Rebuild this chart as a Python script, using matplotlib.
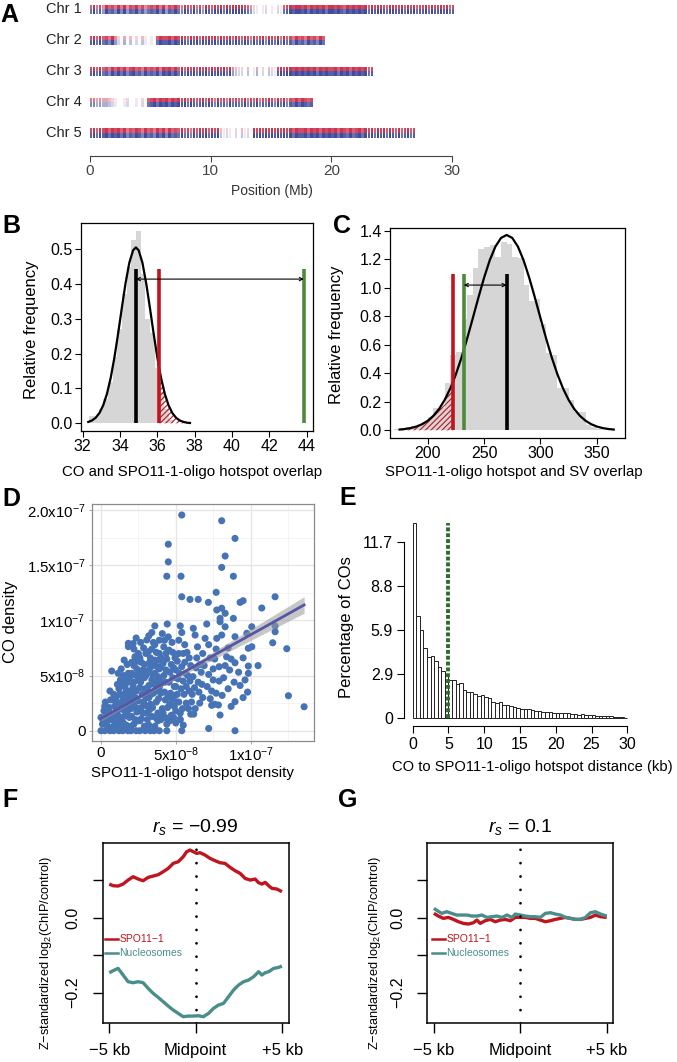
import numpy as np
import matplotlib
matplotlib.use('Agg')
import matplotlib.pyplot as plt

plt.rcParams['font.family'] = ['Liberation Sans', 'DejaVu Sans']
plt.rcParams['mathtext.fontset'] = 'custom'
plt.rcParams['mathtext.rm'] = 'Liberation Sans'
plt.rcParams['mathtext.it'] = 'Liberation Sans:italic'
plt.rcParams['hatch.linewidth'] = 0.8

RED = '#c0141e'
GREEN = '#4f8a3c'
TEAL = '#4a8e8b'

# ---------------- data ----------------
# A: marker density per 0.25 Mb bin (0-9), groups of 10 bins
chr_names = ['Chr 1', 'Chr 2', 'Chr 3', 'Chr 4', 'Chr 5']
chr_density = [
    "7968597869 6958796857 8796958797 6987968598 7989798999 9875210120 "
    "1021789899 8979898979 9898798989 8979899879 9889798978 8979889897 8",
    "8979786952 0403020310 1079889798 9879897989 8979889798 7986978969 "
    "8796978697 86978697",
    "8979786979 7968978697 8796989797 9798979897 9898979532 2030140203 "
    "2189899898 9898979898 8979897989 8978",
    "6645443210 0120010207 8979897989 8979878979 8697869787 7968796879 "
    "8697968797 9878",
    "8979897989 7968798697 8697969787 9786979897 9893121020 3120989898 "
    "9898989798 8979897989 8979879789 7989798979 87978978",
]
bin_mb = 0.25
a_ticks = [0, 10, 20, 30]

# B: CO / hotspot overlap permutation test
b_hist_left = [32.35, 32.6, 32.85, 33.1, 33.35, 33.6, 33.85, 34.1, 34.35,
               34.6, 34.85, 35.1, 35.35, 35.6, 35.85, 36.1, 36.35, 36.6]
b_hist_height = [0.02, 0.02, 0.04, 0.07, 0.12, 0.19, 0.27, 0.37, 0.45,
                 0.527, 0.553, 0.43, 0.30, 0.26, 0.16, 0.09, 0.04, 0.01]
b_curve_x = [32.3, 32.5, 32.7, 32.9, 33.1, 33.3, 33.5, 33.7, 33.9, 34.1, 34.3,
             34.5, 34.7, 34.85, 35.0, 35.2, 35.4, 35.6, 35.8, 36.0, 36.1, 36.2,
             36.4, 36.6, 36.8, 37.0, 37.2, 37.4, 37.6, 37.75]
b_curve_y = [0.004, 0.0083, 0.0162, 0.0299, 0.0518, 0.0846, 0.1303, 0.1889,
             0.2581, 0.3323, 0.4032, 0.4611, 0.4966, 0.505, 0.4966, 0.4611,
             0.4032, 0.3323, 0.2581, 0.1889, 0.158, 0.1303, 0.0846, 0.0518,
             0.0299, 0.0162, 0.0083, 0.004, 0.0018, 0.001]
b_expected, b_lower, b_observed = 34.85, 36.1, 43.85

# C: hotspot / SV overlap permutation test
c_hist_left = list(range(170, 355, 5))
c_hist_height = [0.01, 0.01, 0.02, 0.03, 0.04, 0.06, 0.09, 0.16, 0.16, 0.33,
                 0.53, 0.55, 0.78, 0.95, 1.14, 1.27, 1.29, 1.30, 1.22, 1.32,
                 1.31, 1.22, 1.21, 1.02, 0.91, 0.92, 0.75, 0.54, 0.53, 0.30,
                 0.30, 0.21, 0.13, 0.13, 0.04, 0.02, 0.01]
c_curve_x = [175, 180, 185, 190, 195, 200, 205, 210, 215, 220, 222.2, 225, 230,
             235, 240, 245, 250, 255, 260, 265, 270, 275, 280, 285, 290, 295,
             300, 305, 310, 315, 320, 325, 330, 335, 340, 345, 350, 355, 360, 365]
c_curve_y = [0.0053, 0.0094, 0.0161, 0.0267, 0.043, 0.0672, 0.1018, 0.1495,
             0.2132, 0.2944, 0.336, 0.3943, 0.5123, 0.6455, 0.7885, 0.9336,
             1.0725, 1.1946, 1.2901, 1.351, 1.372, 1.351, 1.2901, 1.1946,
             1.0725, 0.9336, 0.7885, 0.6455, 0.5123, 0.3943, 0.2944, 0.2132,
             0.1495, 0.1018, 0.0672, 0.043, 0.0267, 0.0161, 0.0094, 0.0053]
c_lower, c_observed, c_expected = 222.2, 232.0, 270.0

# D: densities (units of 1e-8)
d_points = np.array([
    (0, 0), (0.25, 0), (0.6, 0), (0.85, 0), (1.2, 0), (1.45, 0), (1.8, 0), (2.0, 0),
    (2.35, 0), (2.6, 0), (2.95, 0), (3.3, 0), (3.55, 0), (3.9, 0), (4.4, 0), (5.4, 0),
    (7.2, 0.2), (8.96, 0),
    (0.1, 0.6), (0.5, 1.0), (0.9, 0.5), (1.1, 0.9), (1.5, 0.7), (2.2, 0.6), (2.7, 1.1),
    (3.2, 0.5), (3.8, 0.9), (4.3, 1.2), (5.3, 1.0), (5.0, 0.7), (6.0, 1.5), (7.96, 1.42),
    (5.28, 1.03),
    (0.0, 1.2), (0.2, 1.8), (0.4, 0.8), (0.5, 1.8), (0.7, 0.3), (0.8, 1.3), (0.9, 2.2),
    (1.0, 0.6), (0.3, 2.6), (0.72, 5.41), (0.6, 3.6),
    (1.1, 1.5), (1.2, 2.5), (1.3, 0.9), (1.4, 3.2), (1.5, 1.9), (1.6, 4.0), (1.7, 0.5),
    (1.8, 2.8), (1.9, 3.6), (1.3, 4.6), (1.83, 5.2), (1.83, 7.62), (1.83, 7.92),
    (2.05, 5.2), (1.6, 3.0), (1.9, 1.2), (1.0, 3.0), (1.2, 3.8), (1.4, 0.3), (1.6, 2.2),
    (1.8, 4.4), (1.5, 5.0), (1.1, 4.2),
    (2.0, 2.0), (2.1, 3.4), (2.2, 4.4), (2.27, 6.7), (2.3, 1.0), (2.4, 5.6), (2.5, 2.7),
    (2.6, 3.9), (2.7, 6.2), (2.8, 1.6), (2.9, 4.8), (3.0, 3.0), (2.2, 5.9), (2.5, 7.0),
    (2.8, 5.5), (2.4, 1.7), (2.6, 0.9), (2.0, 0.4), (2.1, 2.6), (2.3, 3.0), (2.5, 4.6),
    (2.7, 2.1), (2.9, 0.4), (2.2, 7.4), (2.6, 6.6), (2.9, 6.0),
    (3.06, 8.22), (3.17, 7.16), (3.1, 2.2), (3.2, 4.1), (3.3, 5.7), (3.4, 1.3),
    (3.5, 3.4), (3.6, 6.4), (3.6, 9.5), (3.7, 2.6), (3.8, 4.9), (3.9, 7.0), (3.3, 6.6),
    (3.5, 8.0), (3.8, 1.6), (3.9, 3.9), (3.2, 3.0), (3.6, 5.2), (3.0, 5.0), (3.1, 1.0),
    (3.3, 2.4), (3.4, 4.6), (3.6, 0.4), (3.7, 3.6), (3.9, 5.6), (3.0, 7.0), (3.4, 7.4),
    (3.6, 7.8),
    (4.0, 5.8), (4.1, 2.0), (4.2, 7.6), (4.3, 4.4), (4.43, 9.67), (4.4, 6.5), (4.5, 3.1),
    (4.5, 8.5), (4.6, 5.3), (4.7, 1.4), (4.8, 7.1), (4.9, 4.0), (4.1, 8.8), (4.3, 2.8),
    (4.7, 6.0), (4.9, 2.2), (4.0, 1.0), (4.0, 3.4), (4.2, 5.0), (4.4, 0.6), (4.6, 2.4),
    (4.8, 4.8), (4.0, 6.6),
    (5.0, 5.5), (5.1, 3.3), (5.2, 7.0), (5.3, 1.6), (5.4, 8.9), (5.5, 4.5), (5.6, 6.2),
    (5.7, 2.5), (5.8, 5.0), (5.9, 3.6), (5.3, 9.5), (5.6, 7.8), (5.1, 6.3), (5.0, 1.8),
    (5.0, 4.0), (5.2, 2.6), (5.4, 5.8), (5.5, 0.5), (5.7, 4.0),
    (6.0, 5.9), (6.17, 9.28), (6.29, 8.67), (6.1, 3.3), (6.3, 2.0), (6.4, 6.6),
    (6.5, 4.4), (6.7, 5.3), (6.8, 3.0), (6.96, 8.37), (6.8, 7.0), (6.2, 1.5), (6.6, 6.0),
    (7.07, 9.67), (7.2, 5.1), (7.3, 6.6), (7.4, 3.6), (7.5, 4.6), (7.7, 7.4),
    (7.74, 8.37), (7.85, 2.33), (7.9, 5.8), (7.96, 10.18), (7.96, 9.88), (7.4, 2.3),
    (7.6, 2.4),
    (8.07, 8.67), (8.3, 9.42), (8.4, 6.7), (8.2, 4.8), (8.5, 3.8), (8.6, 5.5),
    (8.96, 8.52), (8.96, 6.16), (8.85, 10.18), (8.96, 2.63), (8.7, 2.2), (8.9, 4.4),
    (9.3, 4.1), (9.5, 6.6), (9.63, 4.6), (9.75, 8.83), (9.85, 7.47), (9.85, 5.86),
    (9.85, 5.2), (9.5, 3.0), (9.8, 3.5), (9.2, 5.3),
    (10.08, 7.61), (10.08, 9.42), (10.5, 5.9), (11.48, 7.97), (11.64, 8.97),
    (11.64, 9.49), (12.42, 7.43), (12.53, 3.17), (13.58, 2.17), (11.64, 12.14),
    (10.75, 11.12),
    (5.4, 19.55), (8.07, 19.03), (8.96, 17.43), (4.5, 16.9), (8.3, 15.83), (4.5, 15.3),
    (8.07, 14.8), (4.4, 14.0), (5.35, 14.0), (8.85, 14.0), (7.7, 12.54), (5.4, 12.14),
    (5.95, 11.9), (6.5, 11.9), (7.18, 11.63), (9.3, 11.63), (9.5, 11.78), (7.74, 10.94),
    (8.07, 11.1), (8.3, 10.64),
    # dense core
    (0.15, 0.9), (0.35, 1.4), (0.55, 2.1), (0.75, 1.0), (0.95, 1.6), (0.45, 0.4),
    (0.65, 2.8), (0.85, 3.3), (0.25, 2.2), (0.95, 2.7),
    (1.05, 1.9), (1.15, 0.4), (1.25, 1.2), (1.35, 2.0), (1.45, 2.7), (1.55, 1.3),
    (1.65, 3.5), (1.75, 1.7), (1.85, 2.3), (1.95, 3.1), (1.25, 3.3), (1.45, 4.1),
    (1.65, 4.6), (1.95, 4.9), (1.35, 5.6), (1.75, 6.0), (1.15, 5.2), (1.55, 6.4),
    (2.05, 1.3), (2.15, 4.0), (2.25, 2.2), (2.35, 3.6), (2.45, 0.9), (2.55, 2.0),
    (2.65, 4.4), (2.75, 3.3), (2.85, 2.6), (2.95, 3.8), (2.05, 6.2), (2.35, 5.0),
    (2.55, 5.3), (2.75, 4.9), (2.95, 5.4), (2.15, 7.9), (2.45, 6.3), (2.85, 7.5),
    (2.65, 8.0), (2.35, 8.4),
    (3.05, 1.6), (3.15, 3.6), (3.25, 1.9), (3.35, 3.3), (3.45, 2.1), (3.55, 4.2),
    (3.65, 1.2), (3.75, 4.4), (3.85, 2.9), (3.95, 1.2), (3.15, 5.4), (3.25, 6.2),
    (3.45, 5.1), (3.55, 6.0), (3.75, 5.8), (3.85, 6.4), (3.95, 4.5), (3.2, 8.6),
    (3.7, 7.1), (3.9, 8.2), (3.4, 8.9),
    (4.05, 4.3), (4.15, 1.6), (4.25, 3.5), (4.35, 5.5), (4.45, 2.1), (4.55, 4.4),
    (4.65, 3.4), (4.75, 2.9), (4.85, 5.7), (4.95, 3.2), (4.15, 6.1), (4.35, 7.0),
    (4.55, 7.3), (4.75, 8.0), (4.95, 6.6), (4.25, 8.2), (4.6, 0.9), (4.85, 1.2),
    (5.05, 2.6), (5.15, 4.7), (5.25, 5.2), (5.35, 3.8), (5.45, 2.0), (5.55, 3.3),
    (5.65, 5.2), (5.75, 7.1), (5.85, 2.0), (5.95, 4.5), (5.2, 8.2), (5.5, 7.0),
    (5.9, 6.6),
    (6.05, 2.6), (6.15, 4.9), (6.25, 3.9), (6.35, 5.7), (6.55, 3.5), (6.75, 4.2),
    (6.45, 7.6), (6.9, 5.9), (6.6, 2.5),
    (7.1, 4.0), (7.3, 2.9), (7.5, 5.6), (7.7, 3.4), (7.9, 4.5), (8.1, 3.2), (8.3, 5.9),
    (8.5, 7.5), (8.7, 6.5), (7.2, 7.8), (7.6, 6.5),
])
d_x = d_points[:, 0]
d_y = d_points[:, 1]
d_fit_x = [0, 2, 4, 6, 8, 10, 12, 13.58]
d_fit_y = [1.12, 2.63, 4.15, 5.66, 7.18, 8.69, 10.20, 11.40]
d_fit_se = [0.26, 0.17, 0.17, 0.26, 0.38, 0.51, 0.64, 0.75]

# E: CO to hotspot distance histogram (0.5 kb bins)
e_heights = [12.97, 6.82, 5.87, 4.65, 4.10, 4.12, 3.83, 3.40, 3.12, 2.85,
             2.55, 2.57, 2.30, 2.35, 1.90, 1.73, 1.77, 1.62, 1.45, 1.55,
             1.40, 1.38, 1.10, 1.00, 1.05, 0.88, 0.86, 0.84, 0.72, 0.66,
             0.64, 0.60, 0.64, 0.55, 0.49, 0.51, 0.44, 0.44, 0.40, 0.38,
             0.38, 0.33, 0.33, 0.33, 0.29, 0.27, 0.20, 0.27, 0.24, 0.22,
             0.22, 0.15, 0.15, 0.15, 0.13, 0.13, 0.11, 0.11, 0.09, 0.04]
e_bin = 0.5
e_median = 4.9
e_yticks = [0, 2.925, 5.85, 8.775, 11.7]
e_ytick_labels = ['0', '2.9', '5.9', '8.8', '11.7']

# F: hotspots
f_spo_x = [-5.0, -4.78, -4.49, -4.20, -3.91, -3.62, -3.33, -3.04, -2.75, -2.46, -2.17,
           -1.88, -1.59, -1.30, -1.01, -0.72, -0.52, -0.33, -0.14, 0.06, 0.25, 0.54,
           0.83, 1.12, 1.41, 1.70, 1.99, 2.28, 2.57, 2.86, 3.15, 3.44, 3.64, 3.83,
           4.02, 4.22, 4.41, 4.70, 4.99]
f_spo_y = [0.0893, 0.0849, 0.084, 0.0893, 0.1, 0.1089, 0.1027, 0.0982, 0.1071,
           0.1107, 0.1142, 0.1222, 0.1311, 0.1444, 0.1489, 0.1622, 0.1756, 0.18,
           0.1756, 0.1711, 0.1729, 0.1667, 0.1578, 0.1516, 0.1462, 0.1444, 0.1338,
           0.1249, 0.1178, 0.1044, 0.1, 0.1027, 0.0929, 0.0893, 0.0938, 0.0849,
           0.0778, 0.076, 0.0689]
f_nuc_x = [-5.0, -4.78, -4.49, -4.20, -3.91, -3.62, -3.33, -3.04, -2.75, -2.46, -2.17,
           -1.88, -1.59, -1.30, -1.01, -0.72, -0.43, -0.14, 0.15, 0.44, 0.74, 1.03,
           1.32, 1.61, 1.90, 2.19, 2.48, 2.77, 3.06, 3.35, 3.64, 3.83, 4.02, 4.22,
           4.51, 4.80, 4.99]
f_nuc_y = [-0.1471, -0.1418, -0.1356, -0.1533, -0.1711, -0.1738, -0.1711, -0.1738,
           -0.1889, -0.2022, -0.2129, -0.2244, -0.236, -0.2467, -0.2556, -0.2644,
           -0.2627, -0.2627, -0.2618, -0.2644, -0.2556, -0.2422, -0.2333, -0.2289,
           -0.2111, -0.1933, -0.18, -0.1711, -0.1667, -0.1578, -0.1444, -0.1533,
           -0.1471, -0.1444, -0.1356, -0.1329, -0.1293]

# G: random positions
g_spo_x = [-5.0, -4.74, -4.45, -4.16, -3.87, -3.58, -3.29, -3.0, -2.71, -2.51, -2.32,
           -2.03, -1.74, -1.45, -1.16, -0.87, -0.58, -0.29, 0, 0.29, 0.58, 0.87, 1.16,
           1.45, 1.74, 2.03, 2.32, 2.61, 2.90, 3.19, 3.48, 3.77, 4.06, 4.35, 4.64, 5.0]
g_spo_y = [0.0111, 0.004, -0.0022, 0.0004, -0.0049, -0.0111, -0.0156, -0.0173,
           -0.0138, -0.0067, -0.0156, -0.0084, -0.0049, -0.0111, -0.0067, -0.0049,
           -0.0084, 0.0004, 0.0004, 0.0004, -0.0022, -0.0022, -0.0067, -0.0111,
           -0.0084, -0.0049, -0.0022, 0.0004, -0.0022, -0.0049, -0.0049, -0.0022,
           0.0004, 0.0067, 0.0022, 0.0004]
g_nuc_x = [-5.0, -4.80, -4.55, -4.26, -3.97, -3.68, -3.38, -3.09, -2.80, -2.51, -2.22,
           -1.93, -1.64, -1.35, -1.06, -0.77, -0.48, -0.29, 0, 0.29, 0.58, 0.87, 1.16,
           1.45, 1.74, 2.03, 2.32, 2.61, 2.90, 3.19, 3.48, 3.77, 4.06, 4.35, 4.64, 5.0]
g_nuc_y = [0.0244, 0.0182, 0.0111, 0.0156, 0.0111, 0.0067, 0.0067, 0.0067, 0.004,
           0.004, 0.0067, 0.0004, 0.0022, 0.004, 0.0004, 0.0067, 0.0004, 0.0093,
           0.0067, 0.004, 0.0022, 0.0022, 0.0004, 0.0111, 0.0129, 0.0093, 0.0067,
           0.0004, -0.0022, -0.0049, -0.0049, 0.0004, 0.0129, 0.0156, 0.0093, 0.004]

# ---------------- figure ----------------
W, H = 677, 1062
fig = plt.figure(figsize=(W / 100, H / 100), dpi=100)


def add_ax(l, t, r, b):
    return fig.add_axes([l / W, 1 - b / H, (r - l) / W, (b - t) / H])


def ftext(x, y, s, **kw):
    fig.text(x / W, 1 - y / H, s, **kw)


def letter(x, y, s):
    ftext(x, y, s, fontsize=18, fontweight='bold', ha='center', va='center')


# ---- A ----
ax = add_ax(84, 0, 460.4, 156)
ax.set_xlim(-0.5, 30.7)
ax.set_ylim(4.74, -0.307)
hh = 0.15
for k, s in enumerate(chr_density):
    lv = np.array([int(c) for c in s.replace(' ', '')]) / 9.0
    starts = np.arange(len(lv)) * bin_mb
    rc = np.zeros((len(lv), 4))
    rc[:, :3] = matplotlib.colors.to_rgb('#c81e3c')
    rc[:, 3] = 0.9 * lv
    bc = np.zeros((len(lv), 4))
    bc[:, :3] = matplotlib.colors.to_rgb('#2a3896')
    bc[:, 3] = 0.9 * lv
    ax.bar(starts, hh, bottom=k - hh, width=0.2, align='edge', color=rc, linewidth=0)
    ax.bar(starts, hh, bottom=k, width=0.2, align='edge', color=bc, linewidth=0)
    ax.text(-0.66, k, chr_names[k], ha='right', va='center', fontsize=10.5,
            color='#222222')
for sp in ['top', 'right', 'left']:
    ax.spines[sp].set_visible(False)
ax.spines['bottom'].set_bounds(0, 30)
ax.spines['bottom'].set_color('#444444')
ax.set_xticks(a_ticks)
ax.set_yticks([])
ax.tick_params(axis='x', length=4, color='#444444', labelsize=11, labelcolor='#444444', pad=2)
ax.set_xlabel('Position (Mb)', fontsize=10, color='#333333', labelpad=4)
letter(9, 15, 'A')

# ---- B ----
ax = add_ax(81, 223, 313, 431)
ax.bar(b_hist_left, b_hist_height, width=0.25, align='edge', color='#d6d6d6', linewidth=0)
bx = np.array(b_curve_x)
by = np.array(b_curve_y)
m = bx >= b_lower
ax.fill_between(bx[m], 0, by[m], facecolor='none', edgecolor=RED, hatch='//////', linewidth=0)
ax.plot(bx, by, color='black', lw=1.6)
ax.vlines([b_expected, b_lower, b_observed], 0, 0.443, colors=['black', RED, GREEN], lw=2.6)
ax.annotate('', xy=(b_observed, 0.414), xytext=(b_expected, 0.414),
            arrowprops=dict(arrowstyle='<->', lw=0.8, mutation_scale=6, shrinkA=0, shrinkB=0))
ax.set_xlim(31.91, 44.34)
ax.set_ylim(-0.022, 0.575)
ax.set_xticks(range(32, 45, 2))
ax.set_yticks([0, 0.1, 0.2, 0.3, 0.4, 0.5])
ax.set_yticklabels(['0.0', '0.1', '0.2', '0.3', '0.4', '0.5'])
ax.tick_params(length=4, width=0.8, labelsize=11.5, pad=2)
for sp in ax.spines.values():
    sp.set_linewidth(0.9)
ftext(32, 330, 'Relative frequency', rotation=90, ha='center', va='center', fontsize=12)
ftext(192, 472, 'CO and SPO11-1-oligo hotspot overlap', ha='center', va='center', fontsize=10.8)
letter(11, 226, 'B')

# ---- C ----
ax = add_ax(390, 227.7, 625, 438)
ax.bar(c_hist_left, c_hist_height, width=5, align='edge', color='#d6d6d6', linewidth=0)
cx = np.array(c_curve_x)
cy = np.array(c_curve_y)
m = cx <= c_lower
ax.fill_between(cx[m], 0, cy[m], facecolor='none', edgecolor=RED, hatch='//////', linewidth=0)
ax.plot(cx, cy, color='black', lw=1.6)
ax.vlines([c_lower, c_observed, c_expected], 0, 1.10, colors=[RED, GREEN, 'black'], lw=2.6)
ax.annotate('', xy=(c_expected, 1.02), xytext=(c_observed, 1.02),
            arrowprops=dict(arrowstyle='<->', lw=0.8, mutation_scale=6, shrinkA=0, shrinkB=0))
ax.set_xlim(166.5, 375)
ax.set_ylim(-0.054, 1.423)
ax.set_xticks([200, 250, 300, 350])
ax.set_yticks([0, 0.2, 0.4, 0.6, 0.8, 1.0, 1.2, 1.4])
ax.set_yticklabels(['0.0', '0.2', '0.4', '0.6', '0.8', '1.0', '1.2', '1.4'])
ax.tick_params(length=4, width=0.8, labelsize=11.5, pad=2)
for sp in ax.spines.values():
    sp.set_linewidth(0.9)
ftext(336, 335, 'Relative frequency', rotation=90, ha='center', va='center', fontsize=12)
ftext(514, 472, 'SPO11-1-oligo hotspot and SV overlap', ha='center', va='center', fontsize=10.8)
letter(342, 226, 'C')

# ---- D ----
ax = add_ax(91.7, 504.3, 314, 740.7)
for v in [2.5, 7.5, 12.5]:
    ax.axvline(v, color='#f2f2f2', lw=0.6, zorder=0)
for v in [2.5, 7.5, 12.5, 17.5]:
    ax.axhline(v, color='#f2f2f2', lw=0.6, zorder=0)
for v in [0, 5, 10]:
    ax.axvline(v, color='#e6e6e6', lw=1.0, zorder=0)
for v in [0, 5, 10, 15, 20]:
    ax.axhline(v, color='#e6e6e6', lw=1.0, zorder=0)
ax.scatter(d_x, d_y, s=26, color='#4672b6', edgecolors='none', zorder=2)
fy = np.array(d_fit_y)
fs = np.array(d_fit_se)
ax.fill_between(d_fit_x, fy - fs, fy + fs, color='#9a9a9a', alpha=0.55, linewidth=0, zorder=3)
ax.plot(d_fit_x, fy, color='#5656a6', lw=2.0, zorder=4)
ax.set_xlim(-0.62, 14.24)
ax.set_ylim(-0.906, 20.52)
ax.set_xticks([0, 5, 10])
ax.set_xticklabels(['0', r'5x10$^{-8}$', r'1x10$^{-7}$'])
ax.set_yticks([0, 5, 10, 15, 20])
ax.set_yticklabels(['0', r'5x10$^{-8}$', r'1x10$^{-7}$', r'1.5x10$^{-7}$', r'2.0x10$^{-7}$'])
ax.tick_params(length=2.5, width=0.6, color='#999999', labelsize=10.8, pad=2)
ax.tick_params(axis='x', pad=1)
for sp in ax.spines.values():
    sp.set_color('#8a8a8a')
    sp.set_linewidth(0.9)
ftext(11, 622, 'CO density', rotation=90, ha='center', va='center', fontsize=12)
ftext(192, 773, 'SPO11-1-oligo hotspot density', ha='center', va='center', fontsize=10.8)
letter(11, 499, 'D')

# ---- E ----
ax = add_ax(404.1, 515.4, 635.9, 726.1)
e_left = np.arange(len(e_heights)) * e_bin
ax.bar(e_left, e_heights, width=e_bin, align='edge', facecolor='white',
       edgecolor='#222222', linewidth=0.7)
ln, = ax.plot([e_median, e_median], [0, max(e_heights)], color='#2f6b2f', lw=2.8)
ln.set_dashes([1.0, 0.5])
ax.set_xlim(-1.2, 31.2)
ax.set_ylim(-0.52, 13.49)
for sp in ['top', 'right']:
    ax.spines[sp].set_visible(False)
ax.spines['left'].set_bounds(0, 11.7)
ax.spines['bottom'].set_bounds(0, 30)
ax.set_xticks(range(0, 31, 5))
ax.set_yticks(e_yticks)
ax.set_yticklabels(e_ytick_labels)
ax.tick_params(length=5, width=0.8, labelsize=11.5, pad=3)
ftext(347, 627, 'Percentage of COs', rotation=90, ha='center', va='center', fontsize=12)
ftext(532, 767, 'CO to SPO11-1-oligo hotspot distance (kb)', ha='center', va='center', fontsize=10.6)
letter(348, 498, 'E')


# ---- F & G ----
def profile(ax, sx, sy, nx, ny, leg_x0):
    ax.plot(sx, sy, color=RED, lw=2.4, solid_capstyle='butt')
    ax.plot(nx, ny, color=TEAL, lw=2.4, solid_capstyle='butt')
    dl = ax.axvline(0, color='black', lw=2.0, dash_capstyle='round')
    dl.set_dashes([0.01, 4.8])
    ax.set_xlim(-5.38, 5.38)
    ax.set_ylim(-0.282, 0.198)
    ax.set_xticks([-5, 0, 5])
    ax.set_xticklabels(['\u22125 kb', 'Midpoint', '+5 kb'])
    ax.set_yticks([0.1, 0.0, -0.1, -0.2])
    ax.set_yticklabels(['', '0.0', '', '\u22120.2'], rotation=90, va='center')
    ax.tick_params(length=7, width=1, labelsize=12, pad=7.5)
    ax.tick_params(axis='y', pad=9, labelsize=11.5)
    for sp in ax.spines.values():
        sp.set_linewidth(1.1)
    for lab, col, yy in [('SPO11\u22121', RED, 0.467), ('Nucleosomes', TEAL, 0.389)]:
        ax.plot([leg_x0, leg_x0 + 0.072], [yy, yy], color=col, lw=1.8, transform=ax.transAxes)
        ax.text(leg_x0 + 0.077, yy, lab, color=col, fontsize=7.5, va='center',
                transform=ax.transAxes)


ylab = 'Z\u2212standardized log$_2$(ChIP/control)'

ax = add_ax(102.7, 843.3, 288.7, 1023.3)
profile(ax, f_spo_x, f_spo_y, f_nuc_x, f_nuc_y, 0.012)
ftext(195, 827, '$r_s$ = \u22120.99', ha='center', va='center', fontsize=14)
ftext(46.5, 953, ylab, rotation=90, ha='center', va='center', fontsize=9.2)
letter(10, 800, 'F')

ax = add_ax(427.3, 843.3, 613.3, 1023.3)
profile(ax, g_spo_x, g_spo_y, g_nuc_x, g_nuc_y, 0.024)
ftext(520, 827, '$r_s$ = 0.1', ha='center', va='center', fontsize=14)
ftext(375, 953, ylab, rotation=90, ha='center', va='center', fontsize=9.2)
letter(348, 800, 'G')

fig.savefig('out.png', dpi=100)
